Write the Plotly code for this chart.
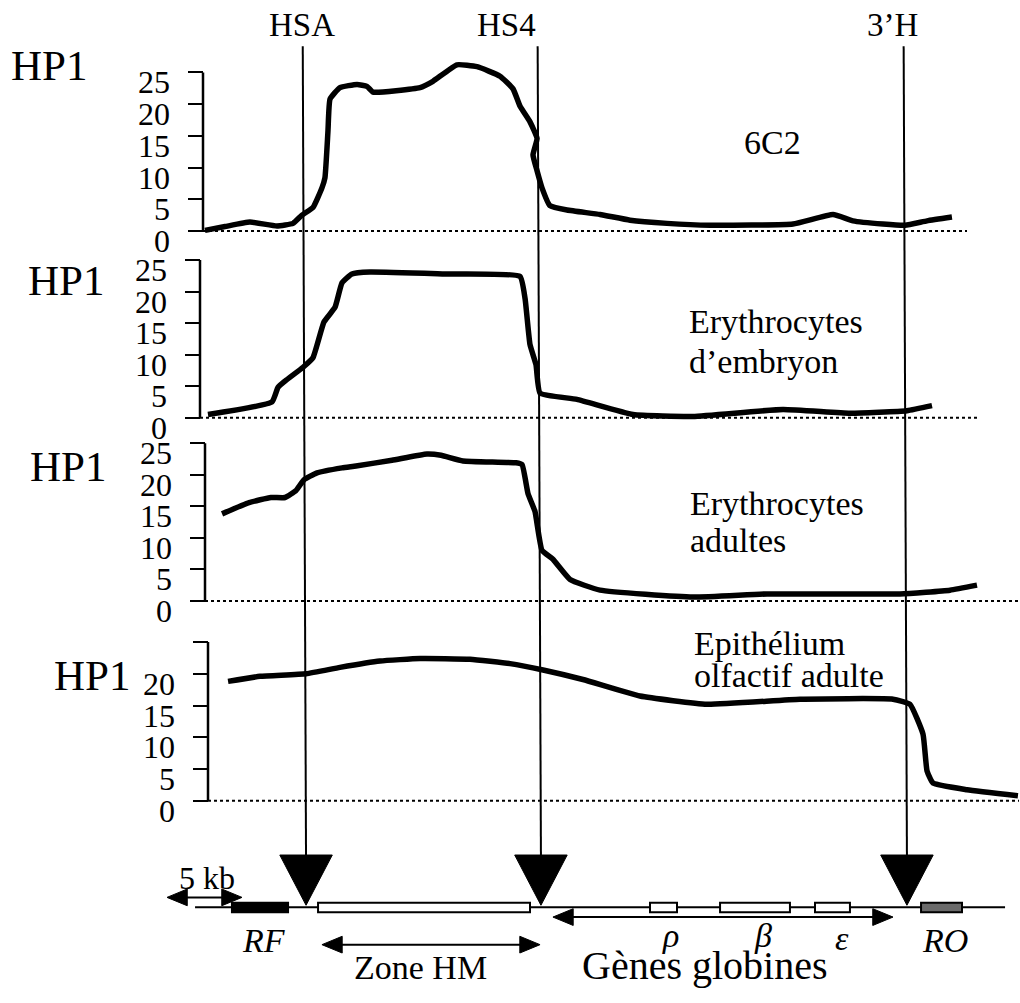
import plotly.graph_objects as go

W, H = 1020, 1003
FONT = "Liberation Serif"

# ---------------- data (x in kb, y = HP1 signal) ----------------
p1_kb = [0.33, 1.67, 3.33, 5.13, 6.2, 6.8, 7.53, 8.13, 8.33, 8.53, 8.67, 9.33, 10.47, 11.13, 11.53,
         14.67, 15.53, 17.13, 18.47, 20.0, 20.87, 21.33, 22.0, 22.47, 22.2, 22.47, 22.8, 23.33, 24.47,
         26.67, 28.67, 31.13, 34.0, 39.53, 42.2, 43.53, 45.53, 47.0, 48.47, 50.13]
p1_val = [0.1, 0.7, 1.4, 0.8, 1.2, 2.5, 3.7, 6.8, 8.4, 15.7, 20.8, 22.6, 23.1, 22.8, 21.9,
          22.6, 23.6, 26.2, 25.9, 24.4, 22.4, 19.7, 17.2, 14.6, 12.0, 9.5, 6.8, 4.0, 3.3,
          2.6, 1.7, 1.2, 0.9, 1.1, 2.6, 1.6, 1.1, 0.9, 1.6, 2.2]

p2_kb = [0.53, 4.8, 5.2, 5.67, 6.87, 7.53, 8.27, 9.0, 9.47, 10.13, 11.33, 16.33, 21.33, 21.67,
         22.0, 22.4, 22.67, 25.13, 28.87, 32.87, 38.87, 43.33, 47.13, 48.8]
p2_val = [0.5, 2.5, 4.8, 5.8, 8.0, 9.5, 15.2, 17.5, 21.4, 22.8, 23.1, 22.8, 22.4, 18.9,
          11.6, 8.4, 3.9, 2.9, 0.5, 0.2, 1.3, 0.7, 1.1, 1.9]

p3_kb = [1.47, 3.27, 4.73, 5.67, 6.4, 6.93, 7.8, 9.47, 10.4, 12.8, 15.13, 16.07, 17.53, 21.07,
         21.47, 21.87, 22.33, 22.8, 23.53, 24.67, 26.67, 32.87, 37.8, 46.67, 50.0, 51.8]
p3_val = [13.8, 15.6, 16.4, 16.4, 17.5, 19.2, 20.3, 21.1, 21.4, 22.3, 23.3, 23.1, 22.2, 21.9,
          21.6, 17.0, 14.2, 8.0, 6.6, 3.4, 1.7, 0.6, 1.1, 1.1, 1.7, 2.5]

p4_kb = [1.87, 4.0, 7.07, 9.33, 12.0, 14.67, 18.0, 20.67, 22.87, 25.53, 29.33, 33.8, 40.0,
         46.2, 47.33, 48.2, 48.47, 48.87, 51.13, 54.53]
p4_val = [18.8, 19.6, 20.0, 21.0, 22.0, 22.4, 22.3, 21.6, 20.6, 19.1, 16.5, 15.2, 16.0,
          16.0, 15.2, 10.5, 4.7, 2.8, 1.75, 0.8]

panel_names = ["6C2", "Erythrocytes<br>d’embryon", "Erythrocytes<br>adultes", "Epithélium<br>olfactif adulte"]
y_ticks = [0, 5, 10, 15, 20, 25]
tick_text_full = ["0", "5", "10", "15", "20", "25"]
tick_text_no25 = ["0", "5", "10", "15", "20", ""]

# hypersensitive sites (kb)
site_names = ["HSA", "HS4", "3’H"]
site_kb = [7.07, 22.73, 47.13]

# gene map (kb)
map_names = ["RF", "HM", "ρ", "β", "ε", "RO"]
map_start = [2.13, 7.87, 30.0, 34.67, 41.0, 48.07]
map_end = [5.87, 22.0, 31.8, 39.33, 43.33, 50.8]
map_fill = ["black", "white", "white", "white", "white", "#6a6a6a"]
map_line_kb = [-0.33, 53.67]
scale_kb = [-2.2, 2.8]          # 5 kb scale bar
zone_hm_kb = [8.13, 22.67]
globin_kb = [23.53, 46.2]

# ---------------- layout helpers ----------------
def py(p):
    return 1 - p / H

def pxp(p):
    return p / W

X_RANGE = [-200 / 15, 820 / 15]
LABEL_DROP = 1.55   # tick labels sit a little below their ticks (in HP1 units)

panels = [
    dict(kb=p1_kb, val=p1_val, y0=234.5, s=6.44, axis_px=203, zero_end=967, ticktext=tick_text_full),
    dict(kb=p2_kb, val=p2_val, y0=424, s=6.4, axis_px=200, zero_end=980, ticktext=tick_text_full),
    dict(kb=p3_kb, val=p3_val, y0=610, s=6.4, axis_px=205, zero_end=1019, ticktext=tick_text_full),
    dict(kb=p4_kb, val=p4_val, y0=813, s=6.45, axis_px=208, zero_end=1019, ticktext=tick_text_no25),
]

fig = go.Figure()
layout = dict(
    width=W, height=H, margin=dict(l=0, r=0, t=0, b=0),
    paper_bgcolor="white", plot_bgcolor="rgba(0,0,0,0)",
    showlegend=False,
    xaxis=dict(domain=[0, 1], range=X_RANGE, visible=False, fixedrange=True),
)
shapes = []
annotations = []

Y_LO, Y_HI = -2, 28
for i, p in enumerate(panels):
    name = "yaxis" if i == 0 else f"yaxis{i+1}"
    yref = "y" if i == 0 else f"y{i+1}"
    lab_name = f"yaxis{i+5}"
    lab_ref = f"y{i+5}"
    bottom = p["y0"] - Y_LO * p["s"]
    top = p["y0"] - Y_HI * p["s"]
    # tick marks axis
    layout[name] = dict(
        domain=[py(bottom), py(top)], range=[Y_LO, Y_HI], anchor="free", position=pxp(p["axis_px"]),
        side="left", showline=False, showgrid=False, zeroline=False,
        ticks="outside", ticklen=15, tickwidth=2, tickcolor="black",
        tickvals=y_ticks, showticklabels=False, fixedrange=True,
    )
    # tick-label axis (same scale, labels drawn slightly below each tick)
    layout[lab_name] = dict(
        overlaying=yref, range=[Y_LO, Y_HI], anchor="free", position=pxp(p["axis_px"]),
        side="left", showline=False, showgrid=False, zeroline=False, ticks="",
        tickvals=[v - LABEL_DROP for v in y_ticks], ticktext=p["ticktext"],
        tickfont=dict(family=FONT, size=32, color="black"),
        ticklabelstandoff=33, fixedrange=True,
    )
    fig.add_trace(go.Scatter(
        x=p["kb"], y=p["val"], xaxis="x", yaxis=yref, mode="lines",
        line=dict(color="black", width=5.5, shape="spline", smoothing=0.4),
        hoverinfo="skip", showlegend=False,
    ))
    fig.add_trace(go.Scatter(x=[None], y=[None], xaxis="x", yaxis=lab_ref, mode="lines",
                             hoverinfo="skip", showlegend=False))
    # axis line 0..25
    shapes.append(dict(type="line", xref="paper", yref=yref, x0=pxp(p["axis_px"]), x1=pxp(p["axis_px"]),
                       y0=0, y1=25, line=dict(color="black", width=2.5)))
    # dotted baseline
    shapes.append(dict(type="line", xref="paper", yref=yref, x0=pxp(p["axis_px"]), x1=pxp(p["zero_end"]),
                       y0=0, y1=0, line=dict(color="black", width=2, dash="dot")))

# HP1 labels
hp1_pos = [(49, 67), (66, 285), (68, 474), (92, 686)]
for (x, y) in hp1_pos:
    annotations.append(dict(text="HP1", x=pxp(x), y=py(y), xref="paper", yref="paper",
                            xanchor="center", yanchor="middle", showarrow=False,
                            font=dict(family=FONT, size=43, color="black")))

# panel names
annotations.append(dict(text=panel_names[0], x=pxp(772), y=py(145), xref="paper", yref="paper",
                        xanchor="center", yanchor="middle", showarrow=False,
                        font=dict(family=FONT, size=34, color="black")))
name_pos = [None, (687, 326, 367), (688, 511, 549), (692, 653, 686)]
for i in range(1, 4):
    lines = panel_names[i].split("<br>")
    x, y1, y2 = name_pos[i]
    for txt, yy in zip(lines, (y1, y2)):
        annotations.append(dict(text=txt, x=pxp(x), y=py(yy), xref="paper", yref="paper",
                                xanchor="left", yanchor="middle", showarrow=False,
                                font=dict(family=FONT, size=34, color="black")))

# sites: vertical lines, labels, triangles
SLANT = 0.22
site_label_x = [302, 506, 892]
for nm, s, lx in zip(site_names, site_kb, site_label_x):
    shapes.append(dict(type="line", xref="x", yref="paper", x0=s - SLANT, x1=s, y0=py(47), y1=py(875),
                       line=dict(color="black", width=2)))
    half = 1.75
    shapes.append(dict(type="path", xref="x", yref="paper",
                       path=f"M {s-half},{py(868)} L {s+half},{py(868)} L {s},{py(919)} Z",
                       fillcolor="black", line=dict(color="black", width=1)))
    annotations.append(dict(text=nm, x=pxp(lx), y=py(25), xref="paper", yref="paper",
                            xanchor="center", yanchor="middle", showarrow=False,
                            font=dict(family=FONT, size=33, color="black")))

# gene map
MAP_Y = 921
shapes.append(dict(type="line", xref="x", yref="paper", x0=map_line_kb[0], x1=map_line_kb[1],
                   y0=py(MAP_Y), y1=py(MAP_Y), line=dict(color="black", width=2)))
for nm, a, b, f in zip(map_names, map_start, map_end, map_fill):
    shapes.append(dict(type="rect", xref="x", yref="paper", x0=a, x1=b, y0=py(926), y1=py(916.5),
                       fillcolor=f, line=dict(color="black", width=2)))

def double_arrow(x0, x1, ypx, hl=1.35, hh=8.5):
    shapes.append(dict(type="line", xref="x", yref="paper", x0=x0 + hl * 0.5, x1=x1 - hl * 0.5,
                       y0=py(ypx), y1=py(ypx), line=dict(color="black", width=2)))
    shapes.append(dict(type="path", xref="x", yref="paper",
                       path=f"M {x0},{py(ypx)} L {x0+hl},{py(ypx-hh)} L {x0+hl},{py(ypx+hh)} Z",
                       fillcolor="black", line=dict(color="black", width=1)))
    shapes.append(dict(type="path", xref="x", yref="paper",
                       path=f"M {x1},{py(ypx)} L {x1-hl},{py(ypx-hh)} L {x1-hl},{py(ypx+hh)} Z",
                       fillcolor="black", line=dict(color="black", width=1)))

double_arrow(scale_kb[0], scale_kb[1], 911)
double_arrow(zone_hm_kb[0], zone_hm_kb[1], 959)
double_arrow(globin_kb[0], globin_kb[1], 931)

def lab(text, xpx, ypx, size=34, italic=False):
    annotations.append(dict(text=text, x=pxp(xpx), y=py(ypx), xref="paper", yref="paper",
                            xanchor="center", yanchor="middle", showarrow=False,
                            font=dict(family=FONT, size=size, color="black",
                                      style="italic" if italic else "normal")))

lab("5 kb", 207, 891, 32)
lab("RF", 264, 955, 34, True)
lab("ρ", 670, 950, 34, True)
lab("β", 763, 950, 34, True)
lab("ε", 842, 953, 34, True)
lab("RO", 945, 955, 34, True)
lab("Zone HM", 420, 982, 34)
lab("Gènes globines", 705, 980, 40)

layout["shapes"] = shapes
layout["annotations"] = annotations
fig.update_layout(**layout)
fig.write_html("out.html")
